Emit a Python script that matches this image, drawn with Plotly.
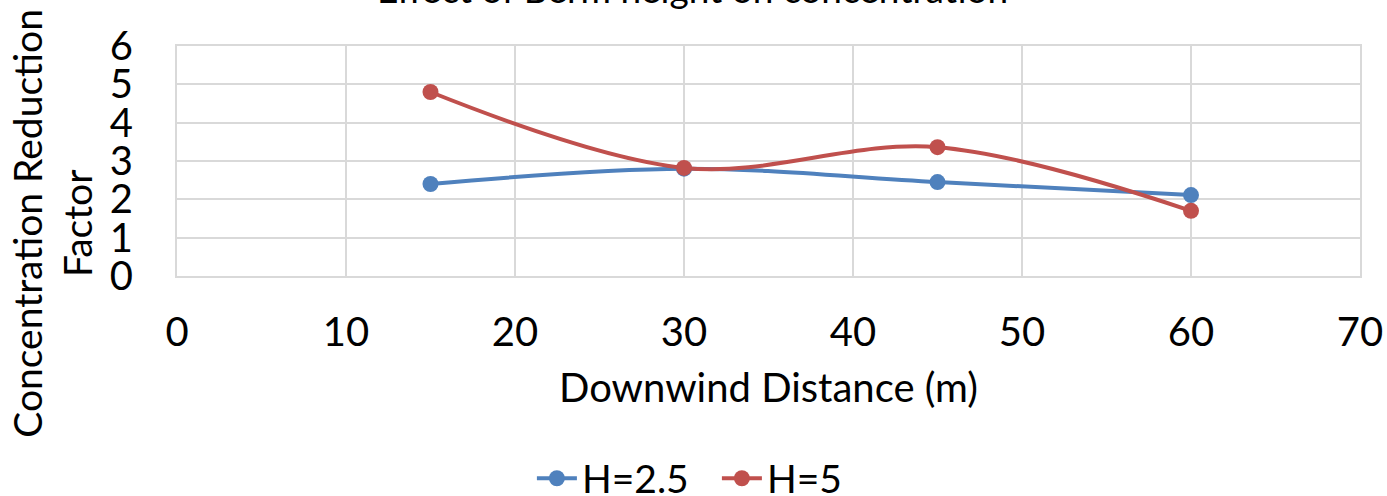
import plotly.graph_objects as go

distance = [15, 30, 45, 60]
h25 = [2.40, 2.80, 2.45, 2.11]
h5 = [4.80, 2.82, 3.36, 1.70]
series_names = ["H=2.5", "H=5"]
title_text = "Effect of Berm height on concentration"
x_title = "Downwind Distance (m)"
y_title = "Concentration Reduction<br>Factor"

FONT = "Lato"
BLUE = "#4F81BD"
RED = "#C0504D"
GRID = "#D9D9D9"

fig = go.Figure()
for name, vals, col in [(series_names[0], h25, BLUE), (series_names[1], h5, RED)]:
    fig.add_trace(go.Scatter(
        x=distance, y=vals, name=name, mode="lines+markers",
        line=dict(color=col, width=4, shape="spline", smoothing=1.0),
        marker=dict(color=col, size=16),
    ))

fig.update_layout(
    width=1387, height=496,
    margin=dict(l=177, r=27, t=46, b=220, autoexpand=False),
    paper_bgcolor="white", plot_bgcolor="white",
    font=dict(family=FONT, size=40, color="#000000"),
    showlegend=True,
    legend=dict(orientation="h", x=0.300, xref="paper", xanchor="left",
                y=-0.88, yanchor="middle", font=dict(size=39),
                itemwidth=40, tracegroupgap=0,
                entrywidth=130, entrywidthmode="pixels"),
    xaxis=dict(range=[0, 70], dtick=10, showgrid=True, gridcolor=GRID, gridwidth=1.5,
               showline=True, linecolor=GRID, linewidth=2, mirror=True,
               zeroline=False, ticks="", ticklabelstandoff=20,
               tickfont=dict(size=40),
               title=dict(text=x_title, font=dict(size=40), standoff=20)),
    yaxis=dict(range=[0, 6], dtick=1, showgrid=True, gridcolor=GRID, gridwidth=1.5,
               showline=True, linecolor=GRID, linewidth=2, mirror=True,
               zeroline=False, ticks="", ticklabelstandoff=34,
               tickfont=dict(size=40)),
    annotations=[
        dict(text=title_text, xref="paper", yref="paper", x=0.436, y=1.143,
             xanchor="center", yanchor="bottom", showarrow=False,
             font=dict(size=37)),
        dict(text=y_title, xref="paper", yref="paper", x=-0.106, y=0.23,
             xanchor="center", yanchor="middle", showarrow=False, textangle=-90,
             font=dict(size=39)),
    ],
)

fig.write_html("out.html")
